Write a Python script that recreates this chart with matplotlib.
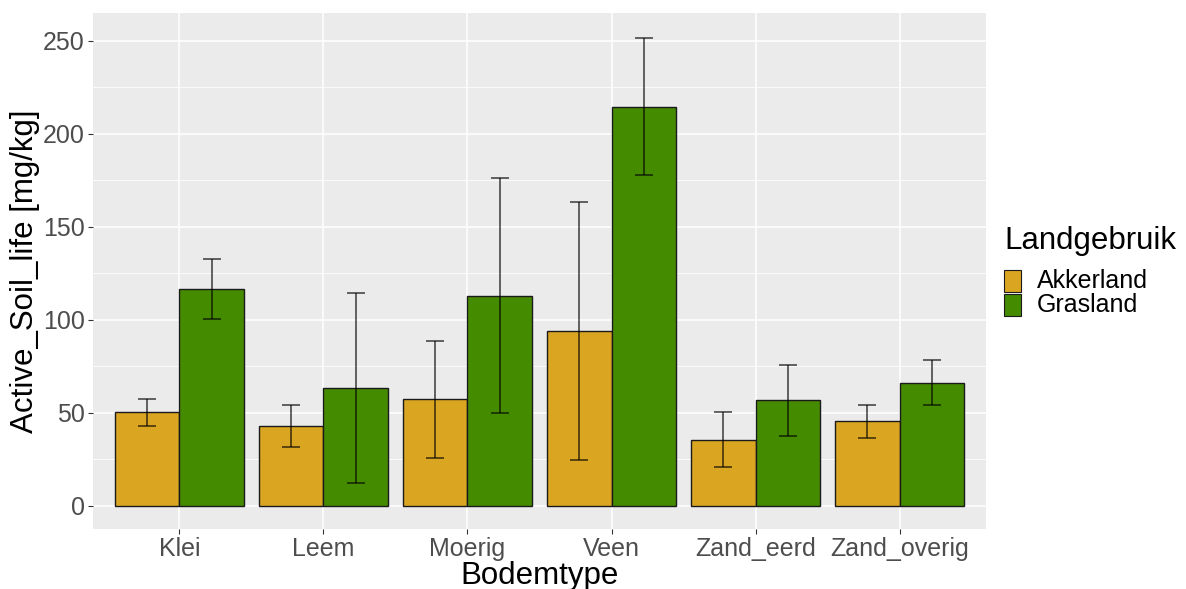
import numpy as np
import matplotlib.pyplot as plt
from matplotlib.patches import Rectangle

plt.rcParams['font.family'] = ['Liberation Sans', 'DejaVu Sans']

bodemtype = ['Klei', 'Leem', 'Moerig', 'Veen', 'Zand_eerd', 'Zand_overig']
landgebruik = ['Akkerland', 'Grasland']
kleuren = ['#DAA520', '#458B00']

# gemiddelde en foutbalk-grenzen per bodemtype
akker_mean = [50.1, 43.0, 57.1, 93.9, 35.4, 45.3]
akker_lo = [43.0, 31.6, 25.5, 24.5, 20.7, 36.6]
akker_hi = [57.5, 54.3, 88.7, 163.5, 50.1, 54.1]
gras_mean = [116.5, 63.0, 112.8, 214.6, 56.7, 66.0]
gras_lo = [100.2, 12.1, 49.9, 177.8, 37.6, 53.9]
gras_hi = [132.7, 114.2, 176.2, 251.6, 75.8, 78.2]

means = [akker_mean, gras_mean]
los = [akker_lo, gras_lo]
his = [akker_hi, gras_hi]

fig = plt.figure(figsize=(11.86, 5.89), dpi=100)
ax = fig.add_axes([0.0784, 0.1019, 0.753, 0.876])
ax.set_facecolor('#EBEBEB')

x = np.arange(1, len(bodemtype) + 1)
bw = 0.45
for i in range(2):
    pos = x + (i - 0.5) * bw
    m = np.array(means[i])
    ax.bar(pos, m, width=bw, color=kleuren[i], edgecolor='#1a1a1a', linewidth=1.0, zorder=3)
    yerr = np.vstack([m - np.array(los[i]), np.array(his[i]) - m])
    ax.errorbar(pos, m, yerr=yerr, fmt='none', ecolor='black', alpha=0.75,
                elinewidth=1.1, capsize=6.5, capthick=1.1, zorder=4)

ax.set_xlim(0.4, 6.6)
ax.set_ylim(-12.6, 265)
ax.set_xticks(x)
ax.set_xticklabels(bodemtype)
ax.set_yticks([0, 50, 100, 150, 200, 250])
ax.set_yticks([25, 75, 125, 175, 225], minor=True)

ax.grid(which='major', color='white', linewidth=1.1, zorder=0)
ax.grid(which='minor', axis='y', color='white', linewidth=0.55, zorder=0)
ax.set_axisbelow(True)
for s in ax.spines.values():
    s.set_visible(False)

ax.tick_params(axis='both', which='major', length=3.5, width=0.8, color='#333333',
               labelcolor='#4D4D4D', labelsize=18, pad=2.5)
ax.tick_params(axis='y', which='minor', length=0)

ax.set_xlabel('Bodemtype', fontsize=22.5, color='black', labelpad=0)
ax.set_ylabel('Active_Soil_life [mg/kg]', fontsize=22.5, color='black', labelpad=2)

# legenda
fig.text(1004 / 1186, 1 - 241 / 589, 'Landgebruik', fontsize=22.5, va='center', ha='left')
key_y = [281, 305]
for i, lab in enumerate(landgebruik):
    fig.patches.append(Rectangle((1004 / 1186, 1 - (key_y[i] + 11) / 589), 17 / 1186, 22 / 589,
                                 transform=fig.transFigure, facecolor=kleuren[i],
                                 edgecolor='#1a1a1a', linewidth=0.8))
    fig.text(1037 / 1186, 1 - key_y[i] / 589, lab, fontsize=18, va='center', ha='left')

fig.savefig('out.png', dpi=100)
